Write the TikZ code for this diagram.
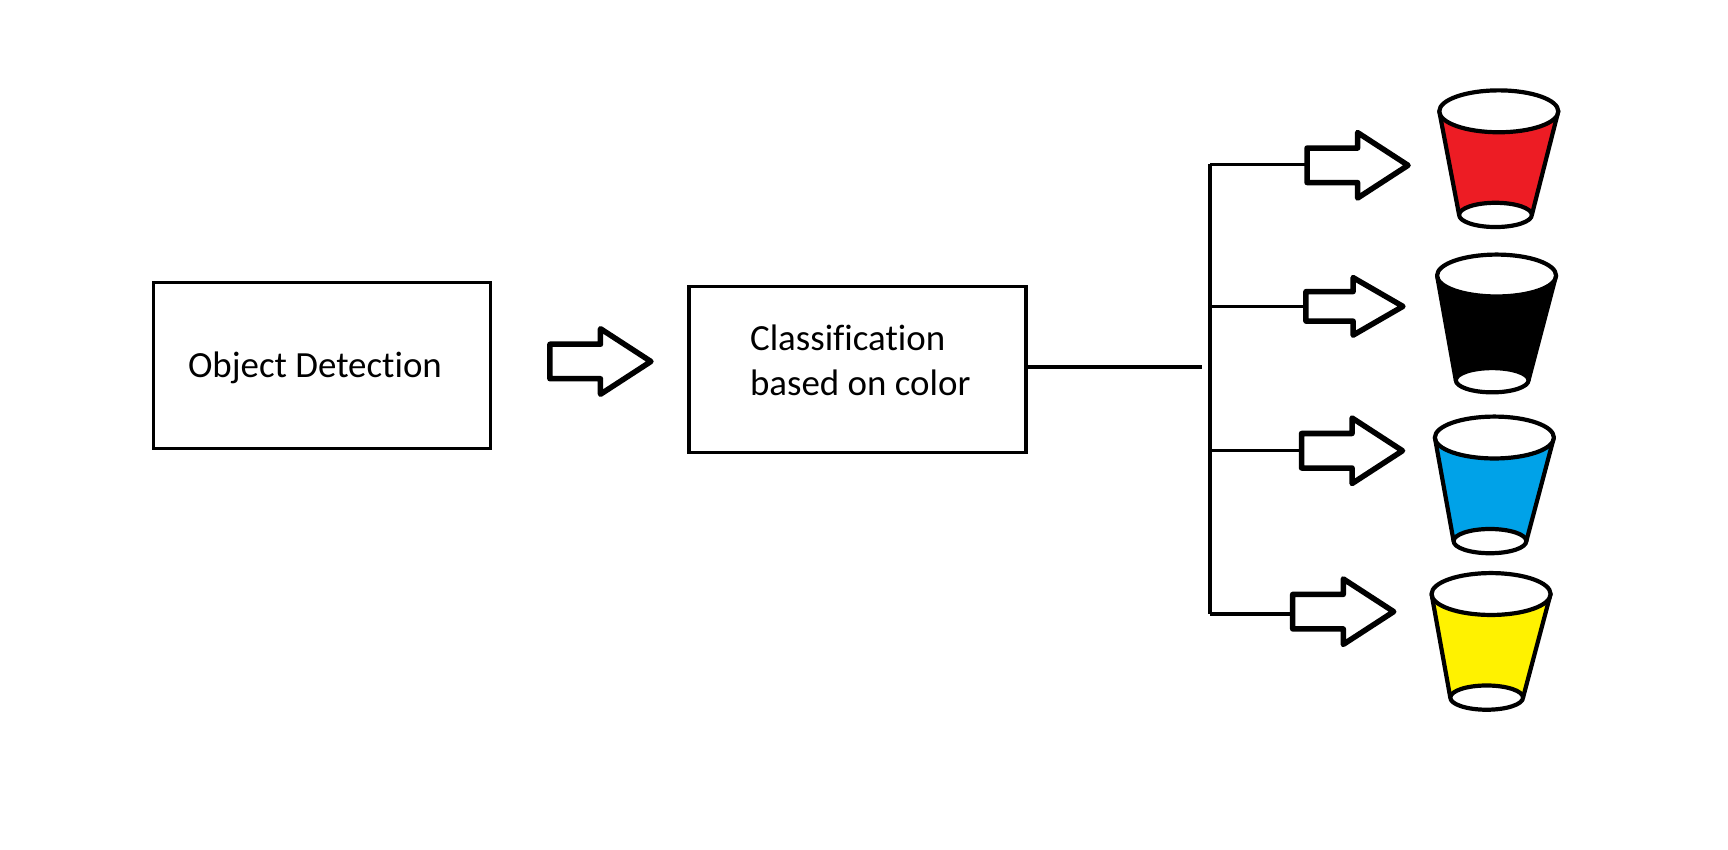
\documentclass[tikz,border=0pt]{standalone}
\usepackage{fontspec}
\setmainfont[Ligatures=NoCommon]{Carlito}
\usetikzlibrary{shapes.arrows}
\definecolor{cupred}{HTML}{ED1C24}
\definecolor{cupblue}{HTML}{00A2E8}
\definecolor{cupyellow}{HTML}{FFF200}
\tikzset{
  stagebox/.style={draw,line width=0.33mm,minimum width=33.7mm,minimum height=16.6mm,inner sep=0pt,outer sep=0pt},
  stagetext/.style={anchor=west,align=left,inner sep=0pt,font=\fontsize{10.5}{12.8}\selectfont},
  hollowarrow/.style={draw,line width=0.55mm,line join=round,single arrow,anchor=tail,inner xsep=0pt,inner ysep=1.45mm,outer sep=0pt,
    minimum height=10.1mm,minimum width=6mm,single arrow head extend=1.55mm,single arrow tip angle=66},
  slimarrow/.style={hollowarrow,inner ysep=1.2mm,minimum height=9.7mm,minimum width=5.2mm,single arrow head extend=1.4mm,single arrow tip angle=60},
  wire/.style={line width=0.33mm},
  cupline/.style={line width=0.42mm,line join=round}
}
\begin{document}
\begin{tikzpicture}[x=0.1102mm,y=-0.1102mm]
\useasboundingbox (0,0) rectangle (1568,770.4);
    \node[stagebox] (detect) at (292,331.5) {};
    \node[stagetext] (detectlabel) at (170,334) {Object Detection};
    \node[hollowarrow] (arrowA) at (499,328) {};
    \node[stagebox] (classify) at (778,335.5) {};
    \node[stagetext] (classifylabel) at (680,327) {Classification\\based on color};
    \coordinate (hubend) at (1091,333);
    \draw[wire] (classify.east |- hubend) -- (hubend);
    \coordinate (trunktop) at (1098,149);
    \coordinate (trunkK) at (1098,278);
    \coordinate (trunkB) at (1098,409);
    \coordinate (trunkbot) at (1098,557);
    \draw[wire] (trunktop) -- (trunkbot);
    \node[hollowarrow] (arrowR) at (1186,150) {};
    \node[slimarrow] (arrowK) at (1185,278) {};
    \node[hollowarrow] (arrowB) at (1181,409) {};
    \node[hollowarrow] (arrowY) at (1173,555) {};
    \draw[wire] (trunktop) -- (trunktop -| arrowR.tail);
    \draw[wire] (trunkK) -- (trunkK -| arrowK.tail);
    \draw[wire] (trunkB) -- (trunkB -| arrowB.tail);
    \draw[wire] (trunkbot) -- (trunkbot -| arrowY.tail);
    % cups: top centre, bottom centre, colour
    \foreach \tx/\ty/\bx/\by/\cupcol in {1360/101/1357/195/cupred,1358/250/1354/345/black,1356/397/1352/491/cupblue,1353/539/1349/633/cupyellow}{
      \draw[cupline,fill=\cupcol] (\tx-54,\ty) -- (\bx-33,\by) -- (\bx+33,\by) -- (\tx+54,\ty) -- cycle;
      \draw[cupline,fill=white] (\tx,\ty) ellipse [x radius=54,y radius=19];
      \draw[cupline,fill=white] (\bx,\by) ellipse [x radius=33,y radius=11];
    }
\end{tikzpicture}
\end{document}
